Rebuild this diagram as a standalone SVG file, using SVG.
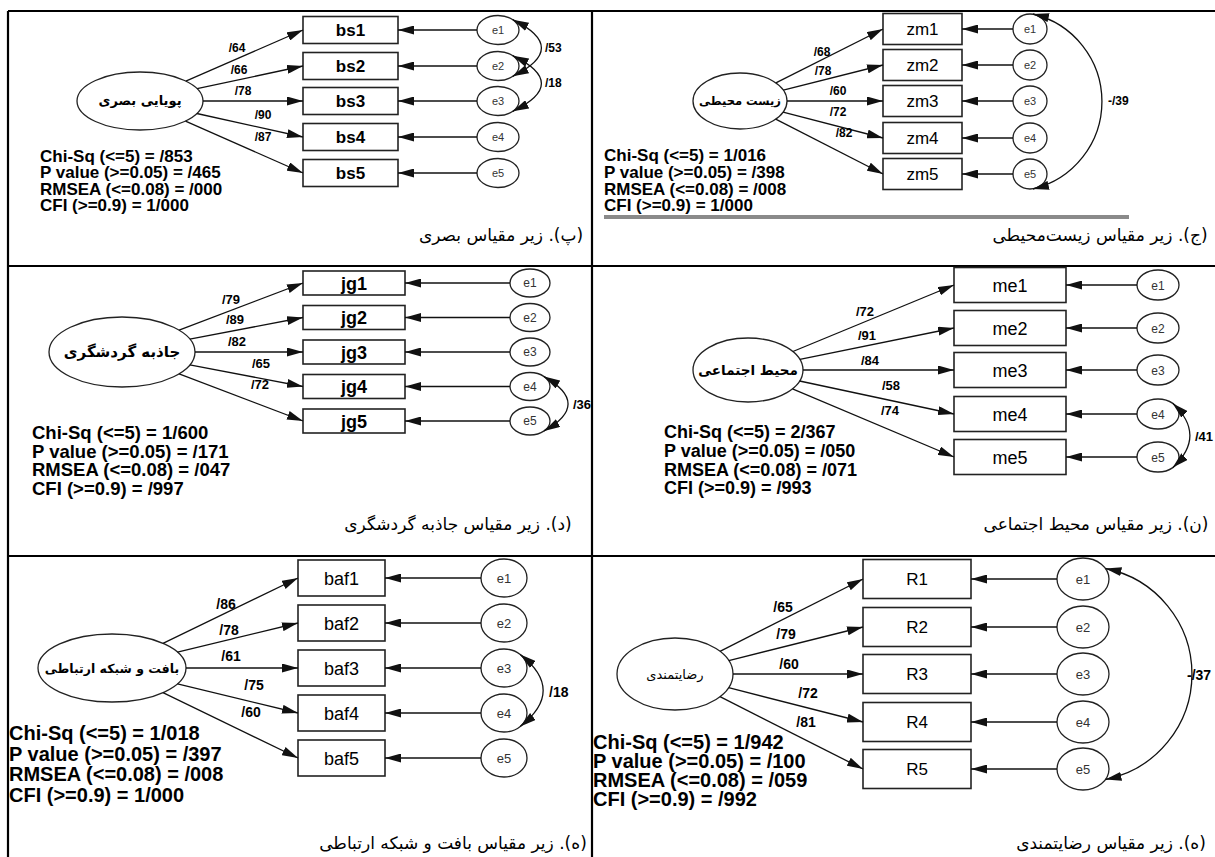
<svg xmlns="http://www.w3.org/2000/svg" width="1215" height="857" viewBox="0 0 1215 857">
<style>
.bx{fill:#fff;stroke:#222;stroke-width:1.6}
.el{fill:#fff;stroke:#222;stroke-width:1.3}
.ar{stroke:#111;stroke-width:1.3;fill:none;marker-end:url(#ah)}
.cv{stroke:#111;stroke-width:1.3;fill:none;marker-start:url(#ah);marker-end:url(#ah)}
.tbl{stroke:#000;stroke-width:2.2;fill:none}
.en{font-family:"Liberation Sans",Arial,sans-serif}
.b{font-weight:bold}
.fa{font-family:"DejaVu Sans",sans-serif}
.c{text-anchor:middle}
.ev{fill:#333}
</style>
<defs>
<marker id="ah" markerUnits="userSpaceOnUse" markerWidth="16" markerHeight="9" refX="16" refY="4.5" orient="auto-start-reverse"><path d="M0,0 L16,4.5 L0,9 z" fill="#111"/></marker>
</defs>
<rect width="1215" height="857" fill="#fff"/>
<g id="table">
<path class="tbl" d="M8,11 H1215 M8,11 V857 M592,11 V857 M8,266 H1215 M8,556 H1215"/>
</g>

<!-- Panel 1 -->
<g id="p1">
<g id="p1-latent"><ellipse class="el" cx="140" cy="101" rx="63" ry="29"/><text class="fa b c" x="140" y="105" font-size="13" direction="rtl">پویایی بصری</text></g>
<g id="p1-bs1"><rect class="bx" x="303" y="16.5" width="95" height="27"/><text class="en b c" x="350.5" y="36" font-size="17">bs1</text></g>
<g id="p1-bs2"><rect class="bx" x="303" y="52.5" width="95" height="27"/><text class="en b c" x="350.5" y="72" font-size="17">bs2</text></g>
<g id="p1-bs3"><rect class="bx" x="303" y="87.5" width="95" height="27"/><text class="en b c" x="350.5" y="107" font-size="17">bs3</text></g>
<g id="p1-bs4"><rect class="bx" x="303" y="123.5" width="95" height="27"/><text class="en b c" x="350.5" y="143" font-size="17">bs4</text></g>
<g id="p1-bs5"><rect class="bx" x="303" y="159.5" width="95" height="27"/><text class="en b c" x="350.5" y="179" font-size="17">bs5</text></g>
<g id="p1-e1"><ellipse class="el" cx="498" cy="30" rx="21" ry="14.5"/><text class="en c ev" x="498" y="34" font-size="11">e1</text></g>
<g id="p1-e2"><ellipse class="el" cx="498" cy="66" rx="21" ry="14.5"/><text class="en c ev" x="498" y="70" font-size="11">e2</text></g>
<g id="p1-e3"><ellipse class="el" cx="498" cy="101" rx="21" ry="14.5"/><text class="en c ev" x="498" y="105" font-size="11">e3</text></g>
<g id="p1-e4"><ellipse class="el" cx="498" cy="137" rx="21" ry="14.5"/><text class="en c ev" x="498" y="141" font-size="11">e4</text></g>
<g id="p1-e5"><ellipse class="el" cx="498" cy="173" rx="21" ry="14.5"/><text class="en c ev" x="498" y="177" font-size="11">e5</text></g>
<text class="en b" font-size="17" x="40" y="162">Chi-Sq (&lt;=5) = /853<tspan x="40" dy="16">P value (&gt;=0.05) = /465</tspan><tspan x="40" dy="16.5">RMSEA (&lt;=0.08) = /000</tspan><tspan x="40" dy="16">CFI (&gt;=0.9) = 1/000</tspan></text>
<text class="fa c" x="501" y="241" font-size="17" direction="rtl">(پ). زیر مقیاس بصری</text>
</g>

<!-- Panel 2 -->
<g id="p2">
<g id="p2-latent"><ellipse class="el" cx="740" cy="101" rx="47" ry="28"/><text class="fa b c" x="740" y="105" font-size="11.5" direction="rtl">زیست محیطی</text></g>
<g id="p2-zm1"><rect class="bx" x="883" y="13.5" width="79" height="31"/><text class="en c" x="922.5" y="35" font-size="17">zm1</text></g>
<g id="p2-zm2"><rect class="bx" x="883" y="49.5" width="79" height="31"/><text class="en c" x="922.5" y="71" font-size="17">zm2</text></g>
<g id="p2-zm3"><rect class="bx" x="883" y="85.5" width="79" height="31"/><text class="en c" x="922.5" y="107" font-size="17">zm3</text></g>
<g id="p2-zm4"><rect class="bx" x="883" y="122.5" width="79" height="31"/><text class="en c" x="922.5" y="144" font-size="17">zm4</text></g>
<g id="p2-zm5"><rect class="bx" x="883" y="158.5" width="79" height="31"/><text class="en c" x="922.5" y="180" font-size="17">zm5</text></g>
<g id="p2-e1"><ellipse class="el" cx="1030" cy="29" rx="17" ry="15"/><text class="en c ev" x="1030" y="33" font-size="11">e1</text></g>
<g id="p2-e2"><ellipse class="el" cx="1030" cy="65" rx="17" ry="15"/><text class="en c ev" x="1030" y="69" font-size="11">e2</text></g>
<g id="p2-e3"><ellipse class="el" cx="1030" cy="101" rx="17" ry="15"/><text class="en c ev" x="1030" y="105" font-size="11">e3</text></g>
<g id="p2-e4"><ellipse class="el" cx="1030" cy="138" rx="17" ry="15"/><text class="en c ev" x="1030" y="142" font-size="11">e4</text></g>
<g id="p2-e5"><ellipse class="el" cx="1030" cy="174" rx="17" ry="15"/><text class="en c ev" x="1030" y="178" font-size="11">e5</text></g>
<text class="en b" font-size="17" x="604" y="161">Chi-Sq (&lt;=5) = 1/016<tspan x="604" dy="17">P value (&gt;=0.05) = /398</tspan><tspan x="604" dy="17">RMSEA (&lt;=0.08) = /008</tspan><tspan x="604" dy="16">CFI (&gt;=0.9) = 1/000</tspan></text>
<path d="M604,217 H1129" stroke="#8a8a8a" stroke-width="4"/>
<text class="fa c" x="1100" y="241" font-size="17" direction="rtl">(ج). زیر مقیاس زیست‌محیطی</text>
</g>

<!-- Panel 3 -->
<g id="p3">
<g id="p3-latent"><ellipse class="el" cx="122" cy="352" rx="73" ry="35"/><text class="fa b c" x="122" y="357" font-size="15" direction="rtl">جاذبه گردشگری</text></g>
<g id="p3-jg1"><rect class="bx" x="303" y="271" width="102" height="24"/><text class="en b c" x="354" y="289.5" font-size="18">jg1</text></g>
<g id="p3-jg2"><rect class="bx" x="303" y="305.5" width="102" height="24"/><text class="en b c" x="354" y="324" font-size="18">jg2</text></g>
<g id="p3-jg3"><rect class="bx" x="303" y="340" width="102" height="24"/><text class="en b c" x="354" y="358.5" font-size="18">jg3</text></g>
<g id="p3-jg4"><rect class="bx" x="303" y="374.5" width="102" height="24"/><text class="en b c" x="354" y="393" font-size="18">jg4</text></g>
<g id="p3-jg5"><rect class="bx" x="303" y="409" width="102" height="24"/><text class="en b c" x="354" y="427.5" font-size="18">jg5</text></g>
<g id="p3-e1"><ellipse class="el" cx="530" cy="283" rx="20" ry="14"/><text class="en c ev" x="530" y="287" font-size="12">e1</text></g>
<g id="p3-e2"><ellipse class="el" cx="530" cy="317.5" rx="20" ry="14"/><text class="en c ev" x="530" y="321.5" font-size="12">e2</text></g>
<g id="p3-e3"><ellipse class="el" cx="530" cy="352" rx="20" ry="14"/><text class="en c ev" x="530" y="356" font-size="12">e3</text></g>
<g id="p3-e4"><ellipse class="el" cx="530" cy="386.5" rx="20" ry="14"/><text class="en c ev" x="530" y="390.5" font-size="12">e4</text></g>
<g id="p3-e5"><ellipse class="el" cx="530" cy="421" rx="20" ry="14"/><text class="en c ev" x="530" y="425" font-size="12">e5</text></g>
<text class="en b" font-size="18.5" x="32" y="439">Chi-Sq (&lt;=5) = 1/600<tspan x="32" dy="18.5">P value (&gt;=0.05) = /171</tspan><tspan x="32" dy="18.5">RMSEA (&lt;=0.08) = /047</tspan><tspan x="32" dy="18.5">CFI (&gt;=0.9) = /997</tspan></text>
<text class="fa c" x="458" y="530" font-size="17" direction="rtl">(د). زیر مقیاس جاذبه گردشگری</text>
</g>

<!-- Panel 4 -->
<g id="p4">
<g id="p4-latent"><ellipse class="el" cx="748" cy="370" rx="55" ry="32"/><text class="fa b c" x="748" y="375" font-size="13.5" direction="rtl">محیط اجتماعی</text></g>
<g id="p4-me1"><rect class="bx" x="954" y="267.5" width="112" height="35"/><text class="en c" x="1010" y="291.5" font-size="18">me1</text></g>
<g id="p4-me2"><rect class="bx" x="954" y="310.5" width="112" height="35"/><text class="en c" x="1010" y="334.5" font-size="18">me2</text></g>
<g id="p4-me3"><rect class="bx" x="954" y="352.5" width="112" height="35"/><text class="en c" x="1010" y="376.5" font-size="18">me3</text></g>
<g id="p4-me4"><rect class="bx" x="954" y="396.5" width="112" height="35"/><text class="en c" x="1010" y="420.5" font-size="18">me4</text></g>
<g id="p4-me5"><rect class="bx" x="954" y="439.5" width="112" height="35"/><text class="en c" x="1010" y="463.5" font-size="18">me5</text></g>
<g id="p4-e1"><ellipse class="el" cx="1158" cy="285" rx="21" ry="15"/><text class="en c ev" x="1158" y="289.5" font-size="12">e1</text></g>
<g id="p4-e2"><ellipse class="el" cx="1158" cy="328" rx="21" ry="15"/><text class="en c ev" x="1158" y="332.5" font-size="12">e2</text></g>
<g id="p4-e3"><ellipse class="el" cx="1158" cy="370" rx="21" ry="15"/><text class="en c ev" x="1158" y="374.5" font-size="12">e3</text></g>
<g id="p4-e4"><ellipse class="el" cx="1158" cy="414" rx="21" ry="15"/><text class="en c ev" x="1158" y="418.5" font-size="12">e4</text></g>
<g id="p4-e5"><ellipse class="el" cx="1158" cy="457" rx="21" ry="15"/><text class="en c ev" x="1158" y="461.5" font-size="12">e5</text></g>
<text class="en b" font-size="18" x="664" y="438">Chi-Sq (&lt;=5) = 2/367<tspan x="664" dy="19">P value (&gt;=0.05) = /050</tspan><tspan x="664" dy="18.5">RMSEA (&lt;=0.08) = /071</tspan><tspan x="664" dy="18.5">CFI (&gt;=0.9) = /993</tspan></text>
<text class="fa c" x="1096" y="530" font-size="17" direction="rtl">(ن). زیر مقیاس محیط اجتماعی</text>
</g>

<!-- Panel 5 -->
<g id="p5">
<g id="p5-latent"><ellipse class="el" cx="112" cy="668" rx="74" ry="34"/><text class="fa b c" x="112" y="673" font-size="12.5" direction="rtl">بافت و شبکه ارتباطی</text></g>
<g id="p5-baf1"><rect class="bx" x="298" y="560" width="87" height="36"/><text class="en c" x="341.5" y="584.5" font-size="18">baf1</text></g>
<g id="p5-baf2"><rect class="bx" x="298" y="605" width="87" height="36"/><text class="en c" x="341.5" y="629.5" font-size="18">baf2</text></g>
<g id="p5-baf3"><rect class="bx" x="298" y="650" width="87" height="36"/><text class="en c" x="341.5" y="674.5" font-size="18">baf3</text></g>
<g id="p5-baf4"><rect class="bx" x="298" y="695" width="87" height="36"/><text class="en c" x="341.5" y="719.5" font-size="18">baf4</text></g>
<g id="p5-baf5"><rect class="bx" x="298" y="740" width="87" height="36"/><text class="en c" x="341.5" y="764.5" font-size="18">baf5</text></g>
<g id="p5-e1"><ellipse class="el" cx="504" cy="578" rx="23" ry="19"/><text class="en c ev" x="504" y="583" font-size="13">e1</text></g>
<g id="p5-e2"><ellipse class="el" cx="504" cy="623" rx="23" ry="19"/><text class="en c ev" x="504" y="628" font-size="13">e2</text></g>
<g id="p5-e3"><ellipse class="el" cx="504" cy="668" rx="23" ry="19"/><text class="en c ev" x="504" y="673" font-size="13">e3</text></g>
<g id="p5-e4"><ellipse class="el" cx="504" cy="713" rx="23" ry="19"/><text class="en c ev" x="504" y="718" font-size="13">e4</text></g>
<g id="p5-e5"><ellipse class="el" cx="504" cy="758" rx="23" ry="19"/><text class="en c ev" x="504" y="763" font-size="13">e5</text></g>
<text class="en b" font-size="20" x="9" y="740">Chi-Sq (&lt;=5) = 1/018<tspan x="9" dy="20.5">P value (&gt;=0.05) = /397</tspan><tspan x="9" dy="20.5">RMSEA (&lt;=0.08) = /008</tspan><tspan x="9" dy="20.5">CFI (&gt;=0.9) = 1/000</tspan></text>
<text class="fa c" x="453" y="849" font-size="17" direction="rtl">(ه). زیر مقیاس بافت و شبکه ارتباطی</text>
</g>

<!-- Panel 6 -->
<g id="p6">
<g id="p6-latent"><ellipse class="el" cx="675" cy="674" rx="58" ry="36"/><text class="fa c" x="675" y="678.5" font-size="13" direction="rtl">رضایتمندی</text></g>
<g id="p6-R1"><rect class="bx" x="863" y="559.5" width="108" height="39"/><text class="en c" x="917" y="585" font-size="17">R1</text></g>
<g id="p6-R2"><rect class="bx" x="863" y="607.5" width="108" height="39"/><text class="en c" x="917" y="633" font-size="17">R2</text></g>
<g id="p6-R3"><rect class="bx" x="863" y="654.5" width="108" height="39"/><text class="en c" x="917" y="680" font-size="17">R3</text></g>
<g id="p6-R4"><rect class="bx" x="863" y="702.5" width="108" height="39"/><text class="en c" x="917" y="728" font-size="17">R4</text></g>
<g id="p6-R5"><rect class="bx" x="863" y="749.5" width="108" height="39"/><text class="en c" x="917" y="775" font-size="17">R5</text></g>
<g id="p6-e1"><ellipse class="el" cx="1083" cy="579" rx="26" ry="21"/><text class="en c ev" x="1083" y="584" font-size="13">e1</text></g>
<g id="p6-e2"><ellipse class="el" cx="1083" cy="627" rx="26" ry="21"/><text class="en c ev" x="1083" y="632" font-size="13">e2</text></g>
<g id="p6-e3"><ellipse class="el" cx="1083" cy="674" rx="26" ry="21"/><text class="en c ev" x="1083" y="679" font-size="13">e3</text></g>
<g id="p6-e4"><ellipse class="el" cx="1083" cy="722" rx="26" ry="21"/><text class="en c ev" x="1083" y="727" font-size="13">e4</text></g>
<g id="p6-e5"><ellipse class="el" cx="1083" cy="769" rx="26" ry="21"/><text class="en c ev" x="1083" y="774" font-size="13">e5</text></g>
<text class="en b" font-size="20" x="593" y="749">Chi-Sq (&lt;=5) = 1/942<tspan x="593" dy="19">P value (&gt;=0.05) = /100</tspan><tspan x="593" dy="19">RMSEA (&lt;=0.08) = /059</tspan><tspan x="593" dy="19">CFI (&gt;=0.9) = /992</tspan></text>
<text class="fa c" x="1111" y="849" font-size="17" direction="rtl">(ه). زیر مقیاس رضایتمندی</text>
</g>

<g id="connectors">
<path class="ar" d="M185.8,81.1 L303,30"/><path class="ar" d="M197.1,88.7 L303,66"/><path class="ar" d="M203,101 L303,101"/><path class="ar" d="M196.8,113.5 L303,137"/><path class="ar" d="M185.5,121.1 L303,173"/>
<path class="ar" d="M477,30 H398"/><path class="ar" d="M477,66 H398"/><path class="ar" d="M477,101 H398"/><path class="ar" d="M477,137 H398"/><path class="ar" d="M477,173 H398"/>
<path class="cv" d="M512.8,19.7 Q570,48 512.8,76.3"/><path class="cv" d="M512.8,55.7 Q570,83.5 512.8,111.3"/>
<path class="ar" d="M775.9,82.9 L883,29"/><path class="ar" d="M783.3,90.1 L883,65"/><path class="ar" d="M787,101 L883,101"/><path class="ar" d="M783.1,112.2 L883,138"/><path class="ar" d="M775.7,119.2 L883,174"/>
<path class="ar" d="M1013,29 H962"/><path class="ar" d="M1013,65 H962"/><path class="ar" d="M1013,101 H962"/><path class="ar" d="M1013,138 H962"/><path class="ar" d="M1013,174 H962"/>
<path class="cv" d="M1033,14 A90 90 0 0 1 1033,189"/>
<path class="ar" d="M179.1,330.2 L303,283"/><path class="ar" d="M189.8,339.1 L303,317.5"/><path class="ar" d="M195,352 L303,352"/><path class="ar" d="M189.8,364.9 L303,386.5"/><path class="ar" d="M179.1,373.8 L303,421"/>
<path class="ar" d="M510,283 H405"/><path class="ar" d="M510,317.5 H405"/><path class="ar" d="M510,352 H405"/><path class="ar" d="M510,386.5 H405"/><path class="ar" d="M510,421 H405"/>
<path class="cv" d="M544.1,376.6 Q592,404 544.1,430.9"/>
<path class="ar" d="M792.9,351.5 L954,285"/><path class="ar" d="M799.9,359.4 L954,328"/><path class="ar" d="M803,370 L954,370"/><path class="ar" d="M799.6,381 L954,414"/><path class="ar" d="M792.5,388.8 L954,457"/>
<path class="ar" d="M1137,285 H1066"/><path class="ar" d="M1137,328 H1066"/><path class="ar" d="M1137,370 H1066"/><path class="ar" d="M1137,414 H1066"/><path class="ar" d="M1137,457 H1066"/>
<path class="cv" d="M1172.8,403.4 Q1207,435.5 1172.8,467.6"/>
<path class="ar" d="M163,643.3 L298,578"/><path class="ar" d="M177.5,652.2 L298,623"/><path class="ar" d="M186,668 L298,668"/><path class="ar" d="M177.5,683.8 L298,713"/><path class="ar" d="M163,692.7 L298,758"/>
<path class="ar" d="M481,578 H385"/><path class="ar" d="M481,623 H385"/><path class="ar" d="M481,668 H385"/><path class="ar" d="M481,713 H385"/><path class="ar" d="M481,758 H385"/>
<path class="cv" d="M520.3,654.6 Q566,690.5 520.3,726.4"/>
<path class="ar" d="M720,651.3 L863,579"/><path class="ar" d="M728.8,660.6 L863,627"/><path class="ar" d="M733,674 L863,674"/><path class="ar" d="M728.6,687.7 L863,722"/><path class="ar" d="M720,696.7 L863,769"/>
<path class="ar" d="M1057,579 H971"/><path class="ar" d="M1057,627 H971"/><path class="ar" d="M1057,674 H971"/><path class="ar" d="M1057,722 H971"/><path class="ar" d="M1057,769 H971"/>
<path class="cv" d="M1105.5,568.5 A107.6 107.6 0 0 1 1105.5,779.5"/>
</g>

<g id="labels" class="en b">
<g font-size="12" class="c"><text x="237" y="52">/64</text><text x="239" y="74">/66</text><text x="243" y="95">/78</text><text x="263" y="119">/90</text><text x="263" y="141">/87</text></g>
<g font-size="12"><text x="545" y="52">/53</text><text x="545" y="87">/18</text></g>
<g font-size="12" class="c"><text x="822" y="56">/68</text><text x="823" y="75">/78</text><text x="838" y="95">/60</text><text x="838" y="116">/72</text><text x="844" y="137">/82</text></g>
<text x="1108" y="105" font-size="12">-/39</text>
<g font-size="13" class="c"><text x="231" y="304">/79</text><text x="235" y="324">/89</text><text x="237" y="346">/82</text><text x="261" y="368">/65</text><text x="260" y="389">/72</text></g>
<text x="573" y="409" font-size="13">/36</text>
<g font-size="13" class="c"><text x="865" y="316">/72</text><text x="867" y="340">/91</text><text x="870" y="365">/84</text><text x="891" y="390">/58</text><text x="890" y="415">/74</text></g>
<text x="1195" y="441" font-size="13">/41</text>
<g font-size="14" class="c"><text x="226" y="609">/86</text><text x="229" y="635">/78</text><text x="231" y="661">/61</text><text x="254" y="690">/75</text><text x="251" y="717">/60</text></g>
<text x="549" y="697" font-size="14">/18</text>
<g font-size="14" class="c"><text x="783" y="612">/65</text><text x="786" y="639">/79</text><text x="789" y="669">/60</text><text x="808" y="698">/72</text><text x="806" y="727">/81</text></g>
<text x="1187" y="680" font-size="14">-/37</text>
</g>
</svg>
